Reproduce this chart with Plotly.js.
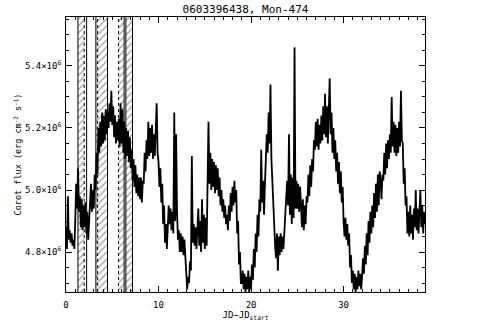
<!DOCTYPE html>
<html>
<head>
<meta charset="utf-8">
<script src="https://cdn.plot.ly/plotly-3.0.1.min.js"></script>
<style>html,body{margin:0;padding:0;background:#fff}#chart{width:490px;height:327px}</style>
</head>
<body>
<div id="chart"></div>
<script>
// Light curve: flux in units of 1e6 erg cm^-2 s^-1, sampled every 0.1 day from JD-JDstart = 0
const T0 = 0;
const DT = 0.1;
const flux = [
  4.88,4.81,4.98,4.84,4.87,4.83,4.86,4.82,4.84,4.81,
  4.90,5.02,4.94,5.07,4.93,4.98,4.88,4.97,4.87,4.95,
  4.88,4.96,4.86,4.93,4.84,4.90,4.92,5.02,4.93,5.00,
  4.94,5.05,5.00,5.12,5.05,5.20,5.12,5.22,5.14,5.25,
  5.15,5.24,5.16,5.26,5.18,5.25,5.20,5.28,5.22,5.32,
  5.21,5.27,5.17,5.24,5.15,5.22,5.16,5.23,5.14,5.28,
  5.15,5.26,5.12,5.22,5.10,5.20,5.11,5.19,5.09,5.17,
  5.07,5.13,5.03,5.10,5.01,5.08,4.99,5.05,4.98,5.04,
  4.97,5.04,4.96,5.03,5.02,5.12,5.06,5.16,5.10,5.22,
  5.11,5.20,5.12,5.21,5.10,5.18,5.11,5.20,5.28,5.12,
  5.09,5.01,5.07,4.96,5.02,4.89,4.95,4.83,4.89,4.81,
  4.88,4.95,4.89,4.94,4.87,4.93,4.86,5.25,4.90,5.18,
  4.93,4.84,4.87,4.80,4.86,4.80,4.85,4.79,4.84,4.76,
  4.73,4.68,4.72,4.70,4.77,4.74,5.11,4.83,4.89,4.82,
  4.88,4.81,4.90,4.94,4.82,4.90,4.80,4.97,4.83,4.92,
  4.81,4.91,4.82,5.04,5.22,5.02,5.12,5.00,5.10,5.01,
  5.09,4.99,5.08,5.00,5.07,4.98,5.04,4.95,5.00,4.93,
  4.97,4.91,4.95,4.89,4.92,4.87,4.95,4.90,4.99,4.93,
  5.01,4.95,5.03,4.96,5.00,4.86,4.90,4.76,4.80,4.70,
  4.70,4.74,4.68,4.73,4.67,4.72,4.68,4.74,4.67,4.72,
  4.68,4.76,4.71,4.81,4.75,4.86,4.80,4.92,4.85,4.97,
  4.93,5.13,4.96,5.03,4.92,5.02,5.08,5.18,5.12,5.25,
  5.15,5.34,5.10,5.02,4.95,4.88,4.82,4.78,4.86,4.74,
  4.85,4.79,4.86,4.80,4.85,4.81,4.87,4.92,4.98,5.03,
  4.95,5.18,4.92,5.05,4.89,5.04,4.91,5.46,4.94,5.03,
  4.94,5.02,4.93,5.01,4.95,4.88,4.97,4.87,4.95,4.89,
  4.98,4.96,5.05,4.98,5.08,5.01,5.10,5.06,5.16,5.13,
  5.22,5.14,5.23,5.13,5.21,5.15,5.24,5.16,5.27,5.18,
  5.31,5.17,5.27,5.15,5.26,5.36,5.18,5.25,5.12,5.20,
  5.10,5.16,5.06,5.12,5.02,5.09,4.99,5.06,4.96,5.01,
  4.90,4.85,4.91,4.84,4.89,4.82,4.86,4.75,4.79,4.70,
  4.74,4.68,4.73,4.67,4.72,4.68,4.74,4.69,4.73,4.68,
  4.72,4.78,4.73,4.82,4.76,4.86,4.79,4.90,4.83,4.93,
  4.86,4.95,4.88,4.99,4.91,5.02,4.93,5.05,4.95,5.06,
  5.03,4.97,5.05,5.03,5.12,5.05,5.15,5.07,5.16,5.10,
  5.18,5.12,5.30,5.14,5.22,5.12,5.21,5.11,5.20,5.12,
  5.22,5.14,5.32,5.16,5.15,5.02,5.07,4.95,4.98,4.86,
  4.93,4.85,4.95,4.86,4.92,4.84,4.94,4.88,5.00,4.87,
  4.94,4.86,4.93,5.00,4.88,4.95,4.86,4.93,4.89
];

// Excluded (hatched) time intervals, JD-JDstart
const bandStart = [1.30, 3.25, 5.70, 6.45];
const bandEnd   = [2.00, 4.50, 6.28, 7.20];
// Boundary markers of the intervals
const edgeSolid  = [1.29, 2.23, 3.23, 4.49, 6.28, 6.47, 7.19];
const edgeDotted = [1.97, 3.42, 5.68];

// Axis ticks
const yTickVals = [4.8, 5.0, 5.2, 5.4];
const yTickText = ['4.8×10<sup>6</sup>', '5.0×10<sup>6</sup>', '5.2×10<sup>6</sup>', '5.4×10<sup>6</sup>'];
const xTickVals = [0, 10, 20, 30];

const X_RANGE = [0, 38.8];
const Y_RANGE = [4.671, 5.558];

const FONT = 'DejaVu Sans Mono';

const bands = {
  type: 'bar',
  x: bandStart.map((s, i) => (s + bandEnd[i]) / 2),
  width: bandStart.map((s, i) => bandEnd[i] - s),
  y: bandStart.map(() => Y_RANGE[1] - Y_RANGE[0]),
  base: Y_RANGE[0],
  marker: {
    color: 'rgba(255,255,255,0)',
    line: {width: 0},
    pattern: {shape: '/', fgcolor: '#9a9a9a', bgcolor: 'rgba(255,255,255,0)', size: 5, solidity: 0.25}
  },
  hoverinfo: 'skip',
  showlegend: false
};

const curve = {
  type: 'scatter',
  mode: 'lines',
  x0: T0,
  dx: DT,
  y: flux,
  line: {color: '#000', width: 1.8},
  showlegend: false
};

const shapes = [];
edgeSolid.forEach(v => shapes.push({type: 'line', xref: 'x', yref: 'paper', x0: v, x1: v, y0: 0, y1: 1, line: {color: '#000', width: 1}}));
edgeDotted.forEach(v => shapes.push({type: 'line', xref: 'x', yref: 'paper', x0: v, x1: v, y0: 0, y1: 1, line: {color: '#000', width: 1, dash: 'dot'}}));

const layout = {
  width: 490, height: 327,
  margin: {l: 66, r: 65, t: 17, b: 35, pad: 0},
  paper_bgcolor: '#fff', plot_bgcolor: '#fff',
  barmode: 'overlay',
  font: {family: FONT, color: '#000', size: 9},
  title: {text: '0603396438, Mon-474', font: {family: FONT, size: 11, color: '#000'},
          x: 0.5, xref: 'paper', xanchor: 'center', y: 0.972, yref: 'container', yanchor: 'middle'},
  xaxis: {
    range: X_RANGE, showgrid: false, zeroline: false,
    showline: true, linecolor: '#000', linewidth: 1, mirror: 'ticks',
    ticks: 'inside', ticklen: 6, tickwidth: 1, tickcolor: '#000',
    tickvals: xTickVals, ticktext: xTickVals.map(String),
    minor: {dtick: 1, ticks: 'inside', ticklen: 3, tickwidth: 1, tickcolor: '#000', showgrid: false},
    tickfont: {family: FONT, size: 9},
    ticklabelstandoff: 4,
    title: {text: 'JD−JD<sub>start</sub>', font: {family: FONT, size: 9}, standoff: 2}
  },
  yaxis: {
    range: Y_RANGE, showgrid: false, zeroline: false,
    showline: true, linecolor: '#000', linewidth: 1, mirror: 'ticks',
    ticks: 'inside', ticklen: 6, tickwidth: 1, tickcolor: '#000',
    tickvals: yTickVals, ticktext: yTickText,
    minor: {dtick: 0.05, tick0: 4.8, ticks: 'inside', ticklen: 3, tickwidth: 1, tickcolor: '#000', showgrid: false},
    tickfont: {family: FONT, size: 9},
    ticklabelstandoff: 2,
    title: {text: 'Corot flux (erg cm<sup>-2</sup> s<sup>-1</sup>)', font: {family: FONT, size: 8.5}, standoff: 1}
  },
  shapes: shapes
};

Plotly.newPlot('chart', [bands, curve], layout, {staticPlot: true, displayModeBar: false});
</script>
</body>
</html>
